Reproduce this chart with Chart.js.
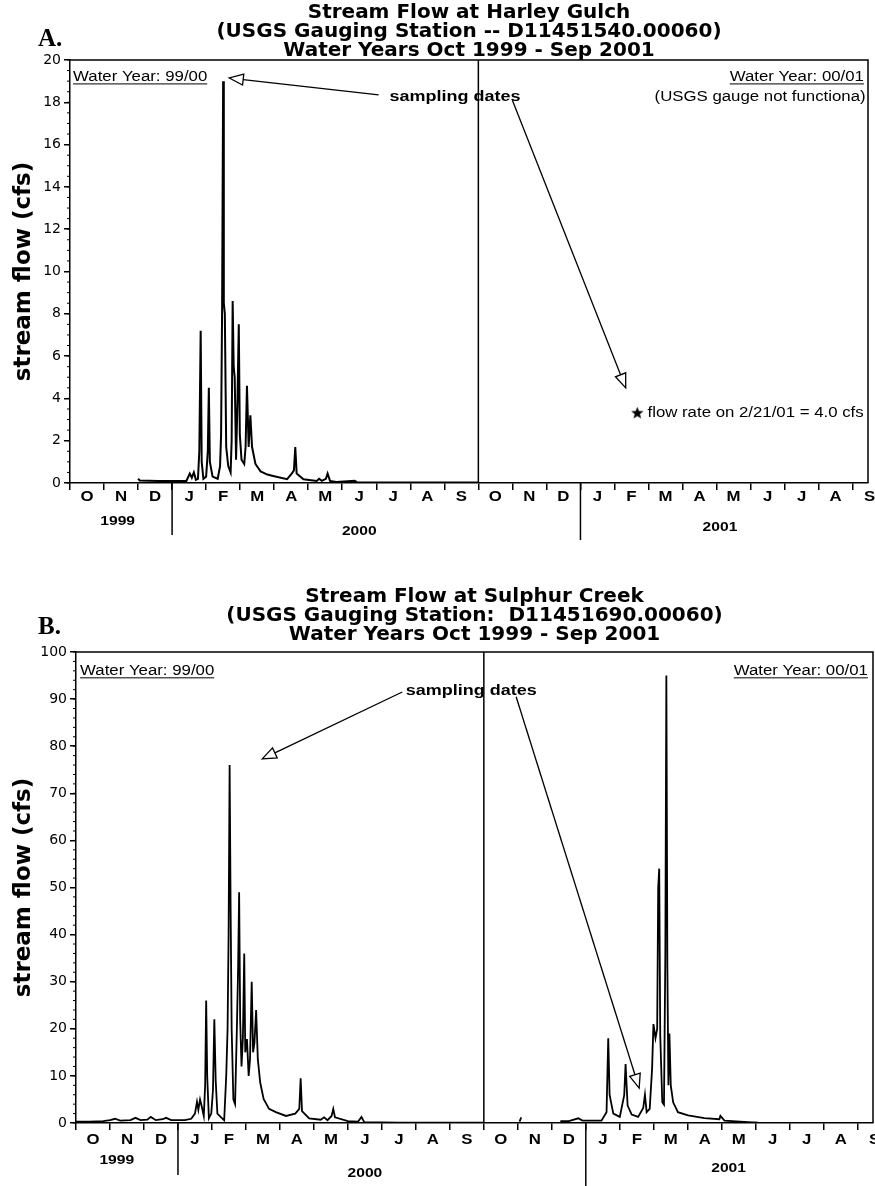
<!DOCTYPE html>
<html>
<head>
<meta charset="utf-8">
<script src="https://cdn.jsdelivr.net/npm/chart.js@4.4.0/dist/chart.umd.min.js"></script>
<style>
  body { margin: 0; background: #fff; }
  #page { position: relative; width: 875px; height: 1186px; }
  canvas { position: absolute; left: 0; }
</style>
</head>
<body>
<div id="page">
  <canvas id="chartA" width="875" height="550" style="top:0"></canvas>
  <canvas id="chartB" width="875" height="626" style="top:560px"></canvas>
</div>
<script>
// x values are months since Oct 1 1999 (0 = Oct 1 1999, 12 = Oct 1 2000)
const monthLetters = ['O','N','D','J','F','M','A','M','J','J','A','S','O','N','D','J','F','M','A','M','J','J','A','S'];
const yearNames = ['1999', '2000', '2001'];
const yearStarts = [3, 15];

// Harley Gulch, cfs
const monthsA = [2.00, 2.05, 2.60, 3.20, 3.42, 3.52, 3.58, 3.64, 3.70, 3.76, 3.80, 3.84, 3.87, 3.92, 4.00,
  4.05, 4.08, 4.11, 4.19, 4.34, 4.41, 4.44, 4.47, 4.50, 4.52, 4.55, 4.59, 4.65, 4.72, 4.75, 4.78, 4.81,
  4.84, 4.88, 4.92, 4.96, 4.99, 5.04, 5.12, 5.16, 5.20, 5.25, 5.30, 5.35, 5.45, 5.60, 5.80, 6.00, 6.38,
  6.52, 6.58, 6.62, 6.66, 6.86, 7.25, 7.32, 7.40, 7.52, 7.57, 7.64, 7.83, 8.37, 8.45, 10.0, 12.0];
const flowA = [0.2, 0.12, 0.1, 0.1, 0.1, 0.45, 0.25, 0.5, 0.15, 0.2, 1.5, 7.2, 1.0, 0.2, 0.3,
  1.5, 4.5, 1.0, 0.3, 0.2, 0.8, 2.3, 8.3, 19.0, 8.5, 8.0, 1.7, 0.8, 0.5, 2.0, 8.6, 5.5,
  5.0, 1.1, 3.8, 7.5, 2.3, 1.1, 0.9, 1.7, 4.6, 1.7, 3.2, 1.7, 0.9, 0.55, 0.4, 0.32, 0.18,
  0.45, 0.6, 1.7, 0.45, 0.18, 0.1, 0.2, 0.1, 0.2, 0.45, 0.1, 0.05, 0.1, 0.02, 0.02, 0.02];
const starMonthA = [16.67];
const starFlowA = [3.3];

// Sulphur Creek, cfs (null = no record)
const monthsB = [0.00, 0.40, 0.80, 1.00, 1.15, 1.30, 1.60, 1.75, 1.90, 2.10, 2.20, 2.35, 2.55, 2.65, 2.80,
  3.20, 3.39, 3.50, 3.56, 3.60, 3.65, 3.70, 3.76, 3.80, 3.83, 3.86, 3.91, 3.98, 4.03, 4.07, 4.11, 4.16,
  4.27, 4.36, 4.42, 4.46, 4.49, 4.52, 4.55, 4.58, 4.63, 4.68, 4.73, 4.77, 4.80, 4.83, 4.87, 4.91, 4.95,
  4.98, 5.03, 5.08, 5.12, 5.17, 5.21, 5.25, 5.30, 5.35, 5.42, 5.52, 5.68, 5.88, 6.18, 6.45, 6.57, 6.61,
  6.65, 6.86, 7.20, 7.30, 7.40, 7.52, 7.57, 7.62, 8.00, 8.30, 8.40, 8.48, 9.50, 12.00, 12.50,
  13.05, 13.10, 13.60,
  14.25, 14.50, 14.78, 14.90, 15.46, 15.61, 15.66, 15.70, 15.74, 15.81, 16.00, 16.13, 16.17, 16.23,
  16.35, 16.54, 16.69, 16.74, 16.79, 16.88, 16.95, 16.99, 17.05, 17.10, 17.13, 17.16, 17.19, 17.25,
  17.30, 17.34, 17.37, 17.40, 17.43, 17.46, 17.50, 17.57, 17.71, 18.01, 18.49, 18.93, 18.96, 19.08,
  19.77, 20.08];
const flowB = [0.3, 0.3, 0.4, 0.6, 0.9, 0.5, 0.6, 1.1, 0.6, 0.7, 1.3, 0.6, 0.8, 1.1, 0.6,
  0.6, 0.9, 2.0, 4.5, 2.8, 5.0, 3.5, 1.5, 8.0, 26.0, 10.0, 1.0, 2.0, 7.0, 22.0, 9.0, 2.0,
  1.2, 0.6, 10.0, 20.0, 40.0, 76.0, 45.0, 20.0, 5.0, 4.0, 19.0, 33.0, 49.0, 22.0, 12.0, 18.0, 36.0,
  15.0, 17.8, 10.0, 13.5, 30.0, 15.0, 17.0, 24.0, 13.5, 8.6, 5.1, 3.0, 2.3, 1.5, 2.0, 3.0, 9.5,
  2.5, 1.0, 0.7, 1.2, 0.6, 1.5, 3.0, 1.2, 0.4, 0.3, 1.3, 0.2, 0.1, 0.05, null,
  0.3, 1.2, null,
  0.4, 0.4, 1.0, 0.5, 0.5, 2.3, 18.0, 6.0, 4.5, 2.0, 1.3, 5.9, 12.5, 3.7,
  1.8, 1.3, 3.2, 6.0, 2.3, 3.0, 11.5, 21.0, 18.0, 20.0, 50.0, 54.0, 18.6, 4.4,
  3.9, 36.0, 95.0, 33.0, 8.0, 19.0, 8.0, 4.4, 2.3, 1.6, 1.05, 0.8, 1.5, 0.5,
  0.2, 0.07];

const FONT = '"Liberation Sans", Arial, Helvetica, sans-serif';
const WIDE = '"DejaVu Sans", Verdana, sans-serif';
const STRETCH = 1.2; // the scanned figure is a bit wider than normal type
Chart.defaults.font.family = WIDE;
Chart.defaults.color = '#000';

function starImage(size) {
  const c = document.createElement('canvas');
  c.width = c.height = size;
  const g = c.getContext('2d');
  g.beginPath();
  for (let i = 0; i < 10; i++) {
    const r = i % 2 ? size * 0.21 : size * 0.5;
    const ang = -Math.PI / 2 + i * Math.PI / 5;
    g.lineTo(size / 2 + r * Math.cos(ang), size / 2 + r * Math.sin(ang));
  }
  g.closePath();
  g.fill();
  return c;
}

function wideText(ctx, text, px, py, align) {
  ctx.save();
  ctx.translate(px, py);
  ctx.scale(STRETCH, 1);
  ctx.textAlign = align;
  ctx.fillText(text, 0, 0);
  ctx.restore();
  return ctx.measureText(text).width * STRETCH;
}

function arrow(ctx, x1, y1, x2, y2) {
  const ang = Math.atan2(y2 - y1, x2 - x1);
  const len = 14, half = 5.5;
  const bx = x2 - len * Math.cos(ang), by = y2 - len * Math.sin(ang);
  ctx.beginPath();
  ctx.moveTo(x1, y1);
  ctx.lineTo(bx, by);
  ctx.stroke();
  ctx.beginPath();
  ctx.moveTo(x2, y2);
  ctx.lineTo(bx + half * Math.sin(ang), by - half * Math.cos(ang));
  ctx.lineTo(bx - half * Math.sin(ang), by + half * Math.cos(ang));
  ctx.closePath();
  ctx.fillStyle = '#fff';
  ctx.fill();
  ctx.stroke();
  ctx.fillStyle = '#000';
}

// frame, minor ticks, month/year labels, notes and arrows
const decorPlugin = {
  id: 'decor',
  afterDraw(chart, args, o) {
    const ctx = chart.ctx, a = chart.chartArea, x = chart.scales.x, y = chart.scales.y;
    ctx.save();
    ctx.strokeStyle = '#000';
    ctx.fillStyle = '#000';

    ctx.lineWidth = 1.5;
    ctx.beginPath();
    ctx.moveTo(a.left, a.top);
    ctx.lineTo(a.right, a.top);
    ctx.lineTo(a.right, a.bottom);
    ctx.stroke();

    ctx.lineWidth = 1;
    for (let v = 0; v <= y.max + 1e-6; v += o.minor) {
      const py = y.getPixelForValue(v);
      ctx.beginPath();
      ctx.moveTo(a.left - 3, py);
      ctx.lineTo(a.left, py);
      ctx.stroke();
    }

    ctx.textBaseline = 'middle';
    ctx.font = 'bold 14px ' + FONT;
    monthLetters.forEach((t, i) => wideText(ctx, t, x.getPixelForValue(i + 0.5), a.bottom + o.monthDy, 'center'));

    ctx.lineWidth = 1.5;
    yearStarts.forEach((m, i) => {
      const px = x.getPixelForValue(m);
      ctx.beginPath();
      ctx.moveTo(px, a.bottom);
      ctx.lineTo(px, a.bottom + o.dividerLen[i]);
      ctx.stroke();
    });
    ctx.font = 'bold 13px ' + FONT;
    yearNames.forEach((t, i) => wideText(ctx, t, x.getPixelForValue(o.yearAt[i]), a.bottom + o.yearDy[i], 'center'));

    ctx.font = 'bold 25px "Liberation Serif", "Times New Roman", serif';
    ctx.textAlign = 'left';
    ctx.fillText(o.letter, o.letterPos[0], o.letterPos[1]);

    o.notes.forEach(n => {
      ctx.font = (n.bold ? 'bold 15px ' : '14px ') + FONT;
      const px = x.getPixelForValue(n.m), py = y.getPixelForValue(n.v);
      const w = wideText(ctx, n.text, px, py, n.align);
      if (n.underline) {
        const x0 = n.align === 'right' ? px - w : px;
        ctx.lineWidth = 1;
        ctx.beginPath();
        ctx.moveTo(x0, py + 7);
        ctx.lineTo(x0 + w, py + 7);
        ctx.stroke();
      }
    });

    ctx.lineWidth = 1.3;
    o.arrows.forEach(r => {
      arrow(ctx, x.getPixelForValue(r.from[0]), y.getPixelForValue(r.from[1]),
        x.getPixelForValue(r.to[0]), y.getPixelForValue(r.to[1]));
    });
    ctx.restore();
  }
};

function buildChart(id, c) {
  const datasets = [
    {
      data: c.months.map((m, i) => ({ x: m, y: c.flow[i] })),
      borderColor: '#000', borderWidth: c.lineWidth, pointRadius: 0, spanGaps: false, tension: 0
    },
    {
      // water year divider
      data: [{ x: 12, y: 0 }, { x: 12, y: c.yMax }],
      borderColor: '#000', borderWidth: 1.5, pointRadius: 0
    }
  ];
  if (c.starMonths) {
    datasets.push({
      data: c.starMonths.map((m, i) => ({ x: m, y: c.starFlows[i] })),
      showLine: false, pointStyle: starImage(13), pointRadius: 6
    });
  }
  return new Chart(document.getElementById(id), {
    type: 'line',
    data: { datasets: datasets },
    options: {
      responsive: false,
      animation: false,
      layout: { padding: c.padding },
      plugins: {
        legend: { display: false },
        tooltip: { enabled: false },
        title: {
          display: true,
          text: c.title,
          fullSize: false,
          color: '#000',
          font: { size: 20, weight: 'bold', lineHeight: '19px' },
          padding: c.titlePadding
        },
        decor: c.decor
      },
      scales: {
        x: {
          type: 'linear', min: 0, max: 23.45,
          ticks: { stepSize: 1, autoSkip: false, includeBounds: false, maxRotation: 0, callback: () => '' },
          grid: { drawOnChartArea: false, tickLength: 7, color: '#000', lineWidth: 1.5 },
          border: { color: '#000', width: 1.5 },
          afterFit: s => { s.height = c.xAxisHeight; }
        },
        y: {
          min: 0, max: c.yMax,
          ticks: { stepSize: c.yStep, padding: 3, color: '#000', font: { size: 14 } },
          grid: { drawOnChartArea: false, tickLength: 6, color: '#000', lineWidth: 1.5 },
          border: { color: '#000', width: 1.5 },
          title: {
            display: true, text: 'stream flow (cfs)', color: '#000',
            font: { size: 23, weight: 'bold', lineHeight: 1.2 }, padding: { top: 10, bottom: 0 }
          },
          afterFit: s => { s.width = c.yAxisWidth; }
        }
      }
    },
    plugins: [decorPlugin]
  });
}

buildChart('chartA', {
  months: monthsA, flow: flowA, starMonths: starMonthA, starFlows: starFlowA,
  lineWidth: 2, yMax: 20, yStep: 2,
  title: ['Stream Flow at Harley Gulch', '(USGS Gauging Station -- D11451540.00060)', 'Water Years Oct 1999 - Sep 2001'],
  titlePadding: { top: 3, bottom: 0 },
  padding: { top: 0, right: 3, bottom: 0, left: 0 },
  yAxisWidth: 70, xAxisHeight: 67,
  decor: {
    minor: 0.5, monthDy: 14, dividerLen: [52, 57], yearAt: [1.4, 8.5, 19.1], yearDy: [38, 48, 44],
    letter: 'A.', letterPos: [38, 40],
    notes: [
      { text: 'Water Year: 99/00', m: 0.09, v: 19.2, align: 'left', underline: true },
      { text: 'Water Year: 00/01', m: 23.33, v: 19.2, align: 'right', underline: true },
      { text: '(USGS gauge not functiona)', m: 23.38, v: 18.25, align: 'right' },
      { text: 'sampling dates', m: 9.39, v: 18.25, align: 'left', bold: true },
      { text: 'flow rate on 2/21/01 = 4.0 cfs', m: 16.97, v: 3.3, align: 'left' }
    ],
    arrows: [
      { from: [9.07, 18.35], to: [4.68, 19.15] },
      { from: [13.0, 18.1], to: [16.33, 4.5] }
    ]
  }
});

buildChart('chartB', {
  months: monthsB, flow: flowB,
  lineWidth: 1.8, yMax: 100, yStep: 10,
  title: ['Stream Flow at Sulphur Creek', '(USGS Gauging Station:  D11451690.00060)', 'Water Years Oct 1999 - Sep 2001'],
  titlePadding: { top: 3, bottom: 8 },
  padding: { top: 24, right: 2, bottom: 0, left: 0 },
  yAxisWidth: 76, xAxisHeight: 63,
  decor: {
    minor: 2, monthDy: 17, dividerLen: [52, 63], yearAt: [1.2, 8.5, 19.2], yearDy: [37, 50, 45],
    letter: 'B.', letterPos: [38, 68],
    notes: [
      { text: 'Water Year: 99/00', m: 0.12, v: 96, align: 'left', underline: true },
      { text: 'Water Year: 00/01', m: 23.3, v: 96, align: 'right', underline: true },
      { text: 'sampling dates', m: 9.7, v: 91.7, align: 'left', bold: true }
    ],
    arrows: [
      { from: [9.6, 91.5], to: [5.48, 77.3] },
      { from: [12.95, 90.5], to: [16.57, 7.4] }
    ]
  }
});
</script>
</body>
</html>
